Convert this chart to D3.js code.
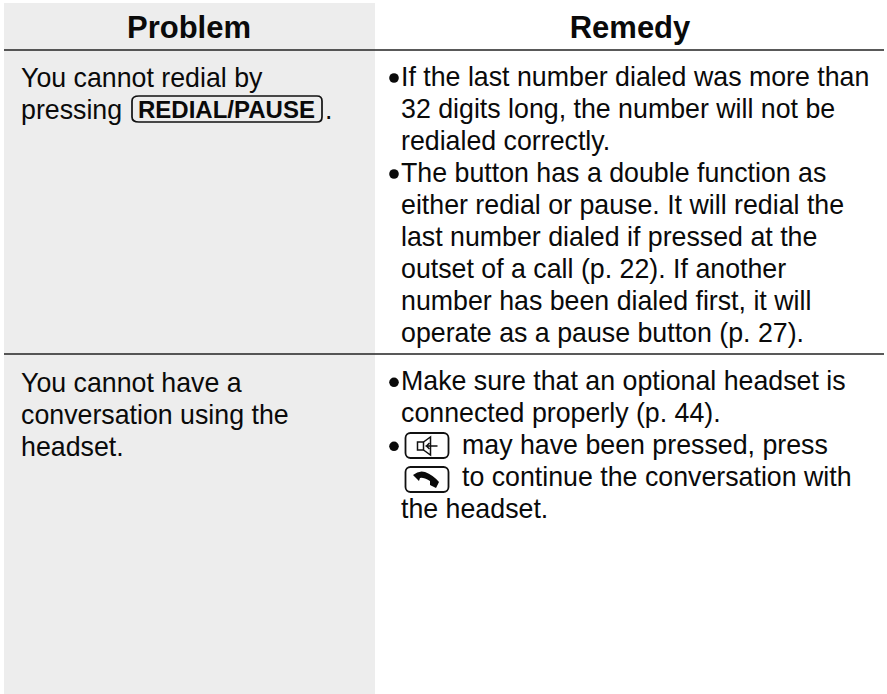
<!DOCTYPE html>
<html>
<head>
<meta charset="utf-8">
<style>
  html, body { margin: 0; padding: 0; background: #fff; }
  svg { display: block; }
  text { font-family: "Liberation Sans", Arial, sans-serif; fill: #0a0a0a; }
</style>
</head>
<body>
<div id="table"></div>
<script src="https://d3js.org/d3.v7.min.js"></script>
<script>
// table content
var headers = ["Problem", "Remedy"];
var problemLines = [
  ["You cannot redial by", "pressing"],
  ["You cannot have a", "conversation using the", "headset."]
];
var remedyLines = [
  ["If the last number dialed was more than", "32 digits long, the number will not be", "redialed correctly.",
   "The button has a double function as", "either redial or pause. It will redial the", "last number dialed if pressed at the",
   "outset of a call (p. 22). If another", "number has been dialed first, it will", "operate as a pause button (p. 27)."],
  ["Make sure that an optional headset is", "connected properly (p. 44).",
   "may have been pressed, press", "to continue the conversation with", "the headset."]
];
var bulletRows = [[0, 3], [0, 2]];
var keyLabel = "REDIAL/PAUSE";

var width = 887, height = 694;
var lineH = 32, fontSize = 26.75;

var svg = d3.select("#table").append("svg")
    .attr("width", width)
    .attr("height", height);

// grey problem column
svg.append("rect")
    .attr("x", 4).attr("y", 3)
    .attr("width", 371).attr("height", 691)
    .attr("fill", "#ededed");

// header
var colCentre = d3.scalePoint().domain(headers).range([189, 630]);
svg.selectAll(".head")
  .data(headers)
  .enter().append("text")
    .attr("class", "head")
    .attr("x", function(d) { return colCentre(d); })
    .attr("y", 38)
    .attr("text-anchor", "middle")
    .attr("font-size", 31)
    .attr("font-weight", "bold")
    .text(function(d) { return d; });

// rules
svg.selectAll(".rule")
  .data([50, 354])
  .enter().append("line")
    .attr("x1", 4).attr("x2", 884)
    .attr("y1", function(d) { return d; })
    .attr("y2", function(d) { return d; })
    .attr("stroke", "#222")
    .attr("stroke-width", 1.3);

var rowTop = [86, 390.3];

function addLines(lines, x, y0) {
  svg.append("g").selectAll("text")
    .data(lines)
    .enter().append("text")
      .attr("x", x)
      .attr("y", function(d, i) { return y0 + i * lineH; })
      .attr("font-size", fontSize)
      .text(function(d) { return d; });
}

// left column
addLines(problemLines[0], 21, rowTop[0] + 0.5);
addLines(problemLines[1], 21, rowTop[1] + 1.2);

// right column
addLines(remedyLines[0], 401, rowTop[0]);
addLines(remedyLines[1].slice(0, 2), 401, rowTop[1]);
svg.append("text").attr("x", 462).attr("y", rowTop[1] + 2 * lineH).attr("font-size", fontSize).text(remedyLines[1][2]);
svg.append("text").attr("x", 462).attr("y", rowTop[1] + 3 * lineH).attr("font-size", fontSize).text(remedyLines[1][3]);
svg.append("text").attr("x", 401).attr("y", rowTop[1] + 4 * lineH).attr("font-size", fontSize).text(remedyLines[1][4]);

// bullets
bulletRows.forEach(function(rows, r) {
  svg.append("g").selectAll("circle")
    .data(rows)
    .enter().append("circle")
      .attr("cx", 394)
      .attr("cy", function(d) { return rowTop[r] + d * lineH - 8; })
      .attr("r", 4.8)
      .attr("fill", "#0a0a0a");
});

// REDIAL/PAUSE key
var keyY = rowTop[0] + lineH;
svg.append("path")
    .attr("d", "M139 " + (keyY - 22) + "H317q5 0 5 5V" + (keyY - 1) + "q0 5 -5 5H139q-7 0 -7 -5V" + (keyY - 17) + "q0 -5 7 -5Z")
    .attr("fill", "none")
    .attr("stroke", "#111")
    .attr("stroke-width", 1.7);
svg.append("text")
    .attr("x", 138).attr("y", keyY - 0.5)
    .attr("font-size", 24)
    .attr("font-weight", "bold")
    .text(keyLabel);
svg.append("text")
    .attr("x", 325).attr("y", keyY + 0.5)
    .attr("font-size", fontSize)
    .text(".");

// small key caps on the right
var capTop = [433, 467];
svg.selectAll(".cap")
  .data(capTop)
  .enter().append("rect")
    .attr("class", "cap")
    .attr("x", 405.5).attr("y", function(d) { return d; })
    .attr("width", 43).attr("height", 25)
    .attr("rx", 5)
    .attr("fill", "none")
    .attr("stroke", "#111")
    .attr("stroke-width", 1.8);

// speaker icon
var sp = svg.append("g").attr("transform", "translate(417.5,446)")
    .attr("fill", "none").attr("stroke", "#111").attr("stroke-width", 1.5);
sp.append("rect").attr("x", 0).attr("y", -4).attr("width", 6).attr("height", 8);
sp.append("path").attr("d", "M6 -4L13 -9V9L6 4");
sp.append("path").attr("d", "M8 0H20M12 -3L9 0L12 3");

// handset icon
svg.append("path")
    .attr("transform", "translate(413,471)")
    .attr("d", "M0 4Q6 -1 12 1Q20 4 26 11L23 17L17 14L17 10Q10 6 7 7L6 10Z")
    .attr("fill", "#0a0a0a");
</script>
</body>
</html>
